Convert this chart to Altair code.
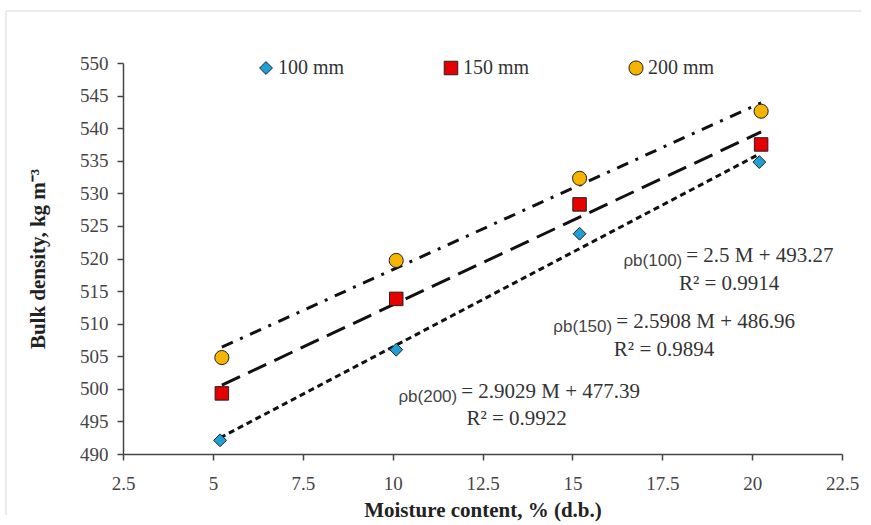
import altair as alt
import pandas as pd

# ---- data ----
series = ["100 mm", "150 mm", "200 mm"]
moisture_100 = [5.2, 10.1, 15.2, 20.2]
density_100 = [492.1, 506.0, 523.8, 534.8]
moisture_150 = [5.25, 10.1, 15.2, 20.25]
density_150 = [499.3, 513.8, 528.3, 537.5]
moisture_200 = [5.25, 10.1, 15.2, 20.25]
density_200 = [504.8, 519.7, 532.3, 542.6]

# trend lines (from the equations printed on the chart)
trend_series = ["t100", "t150", "t200"]
trend_slope = [2.9029, 2.5908, 2.5]
trend_intercept = [477.39, 486.96, 493.27]
trend_start = [5.2, 5.25, 5.25]
trend_end = [20.2, 20.25, 20.25]

# annotation texts
eq_sub = ["ρb(100)", "ρb(150)", "ρb(200)"]
eq_main = ["= 2.5 M + 493.27", "= 2.5908 M + 486.96", "= 2.9029 M + 477.39"]
eq_r2 = ["R² = 0.9914", "R² = 0.9894", "R² = 0.9922"]
eq_x = [18.14, 16.19, 11.88]
eq_y = [519.5, 509.4, 498.6]
r2_x = [19.36, 17.55, 13.45]
r2_y = [515.2, 505.1, 494.5]

x_ticks = [2.5, 5, 7.5, 10, 12.5, 15, 17.5, 20, 22.5]
y_ticks = [490, 495, 500, 505, 510, 515, 520, 525, 530, 535, 540, 545, 550]

FONT = "Liberation Serif"

pts = pd.DataFrame({
    "series": ["100 mm"] * 4 + ["150 mm"] * 4 + ["200 mm"] * 4,
    "M": moisture_100 + moisture_150 + moisture_200,
    "D": density_100 + density_150 + density_200,
})

rows = []
for s, a, b, x0, x1 in zip(trend_series, trend_slope, trend_intercept, trend_start, trend_end):
    rows.append({"trend": s, "M": x0, "a": a, "b": b, "order": 0})
    rows.append({"trend": s, "M": x1, "a": a, "b": b, "order": 1})
trend = pd.DataFrame(rows)

ann = pd.DataFrame({"sub": eq_sub, "main": eq_main, "r2": eq_r2,
                    "ex": eq_x, "ey": eq_y, "rx": r2_x, "ry": r2_y})

x_scale = alt.Scale(domain=[2.5, 22.5], nice=False, zero=False)
y_scale = alt.Scale(domain=[490, 550], nice=False, zero=False)

x_axis = alt.Axis(values=x_ticks, format=".4~g", grid=False, title="Moisture content, % (d.b.)",
                  titleFont=FONT, titleFontSize=21, titleFontWeight="bold", titleColor="#222",
                  labelFont=FONT, labelFontSize=19, labelColor="#444", labelPadding=14,
                  labelOverlap=False, labelFlush=False,
                  tickSize=6, tickColor="#444", domainColor="#444", domainWidth=1.5, tickWidth=1.5,
                  titlePadding=6)
y_axis = alt.Axis(values=y_ticks, grid=False, title="Bulk density, kg m⁻³",
                  titleFont=FONT, titleFontSize=21, titleFontWeight="bold", titleColor="#222",
                  labelFont=FONT, labelFontSize=19, labelColor="#444", labelPadding=9,
                  labelOverlap=False, labelFlush=False,
                  tickSize=6, tickColor="#444", domainColor="#444", domainWidth=1.5, tickWidth=1.5,
                  titlePadding=31)

X = alt.X("M:Q", scale=x_scale, axis=x_axis)
Y = alt.Y("D:Q", scale=y_scale, axis=y_axis)

one = pd.DataFrame({"k": [0]})
frame_top = alt.Chart(one).mark_rule(stroke="#e4e4e4", strokeWidth=1.5, clip=False).encode(
    x=alt.value(-117), x2=alt.value(738), y=alt.value(-52))
frame_left = alt.Chart(one).mark_rule(stroke="#e4e4e4", strokeWidth=1.5, clip=False).encode(
    x=alt.value(-117), y=alt.value(-52), y2=alt.value(452))

lines = alt.Chart(trend).transform_calculate(
    D="datum.a * datum.M + datum.b"
).mark_line(color="#111", strokeWidth=3, clip=True).encode(
    x=X, y=Y,
    detail="trend:N",
    order="order:Q",
    strokeDash=alt.StrokeDash("trend:N", legend=None,
                              scale=alt.Scale(domain=trend_series,
                                              range=[[6, 4], [20, 9], [12, 8, 3, 8]])),
)

points = alt.Chart(pts).mark_point(filled=True, stroke="#222", strokeWidth=1, opacity=1).encode(
    x=X, y=Y,
    fill=alt.Fill("series:N", scale=alt.Scale(domain=series, range=["#1f9fd6", "#e60000", "#f5b400"]),
                  legend=alt.Legend(title=None, orient="none", direction="horizontal",
                                    legendX=133, legendY=-5, columnPadding=96,
                                    labelFont=FONT, labelFontSize=20, labelColor="#333",
                                    labelOffset=2, symbolStrokeColor="#222", symbolStrokeWidth=1)),
    shape=alt.Shape("series:N", scale=alt.Scale(domain=series, range=["diamond", "square", "circle"])),
    size=alt.Size("series:N", scale=alt.Scale(domain=series, range=[165, 200, 196])),
)

sub_txt = alt.Chart(ann).mark_text(align="right", baseline="alphabetic", font="Liberation Sans",
                                   fontSize=17, color="#444", dx=-3, dy=4).encode(
    x=alt.X("ex:Q", scale=x_scale, axis=x_axis), y=alt.Y("ey:Q", scale=y_scale, axis=y_axis), text="sub:N")
main_txt = alt.Chart(ann).mark_text(align="left", baseline="alphabetic", font=FONT,
                                    fontSize=21, color="#333", dx=1).encode(
    x=alt.X("ex:Q", scale=x_scale, axis=x_axis), y=alt.Y("ey:Q", scale=y_scale, axis=y_axis), text="main:N")
r2_txt = alt.Chart(ann).mark_text(align="center", baseline="alphabetic", font=FONT,
                                  fontSize=21, color="#333").encode(
    x=alt.X("rx:Q", scale=x_scale, axis=x_axis), y=alt.Y("ry:Q", scale=y_scale, axis=y_axis), text="r2:N")

chart = alt.layer(frame_top, frame_left, lines, points, sub_txt, main_txt, r2_txt).properties(
    width=719, height=391,
    autosize=alt.AutoSizeParams(type="none"),
    padding={"left": 123, "top": 63, "right": 29, "bottom": 71},
    background="white",
).configure_view(stroke=None)

chart.save("out.html", embed_options={"renderer": "svg", "actions": False})
